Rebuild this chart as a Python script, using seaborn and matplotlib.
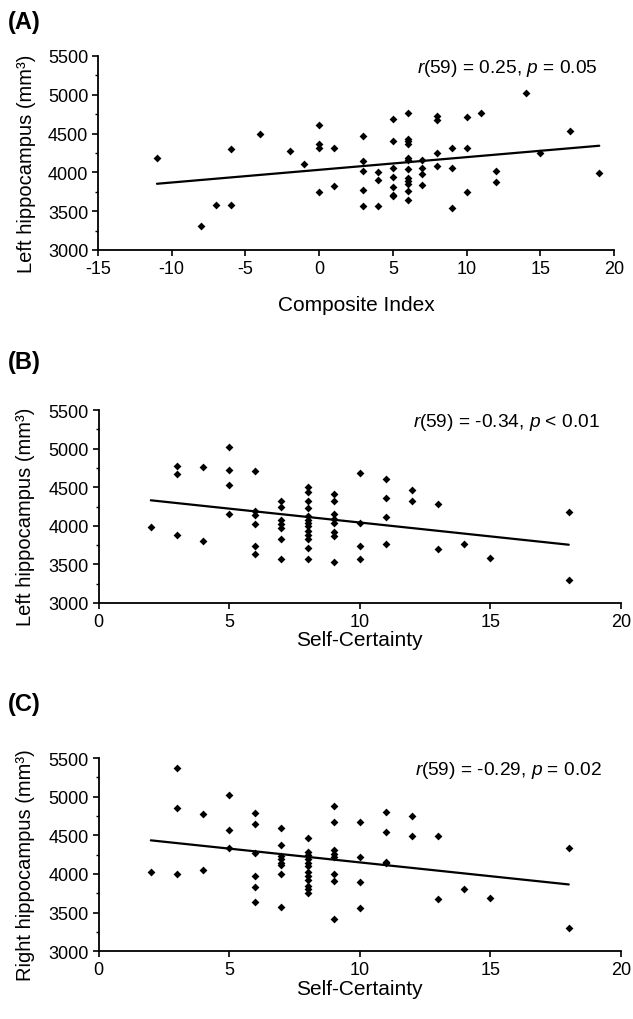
import matplotlib
matplotlib.use("Agg")
import matplotlib.pyplot as plt
import seaborn as sns
import numpy as np
import pandas as pd
from matplotlib.ticker import MultipleLocator

# ---------------- data ----------------
composite_x = [-11, -8, -7, -6, -6, -4, -2, -1,
               0, 0, 0, 0,
               1, 1,
               3, 3, 3, 3, 3,
               4, 4, 4,
               5, 5, 5, 5, 5, 5, 5,
               6, 6, 6, 6, 6, 6, 6, 6, 6, 6, 6, 6,
               7, 7, 7, 7,
               8, 8, 8, 8,
               9, 9, 9,
               10, 10, 10,
               11, 12, 12, 14, 15, 17, 19]
left_hc_a = [4190, 3305, 3576, 3584, 4306, 4491, 4272, 4113,
             4611, 4370, 4319, 3752,
             4311, 3825,
             4465, 4143, 4022, 3773, 3571,
             4009, 3898, 3563,
             4689, 4405, 4061, 3937, 3808, 3713, 3690,
             4766, 4431, 4400, 4370, 4182, 4155, 4044, 3930, 3889, 3851, 3757, 3645,
             4166, 4063, 3980, 3838,
             4731, 4669, 4248, 4079,
             4311, 4057, 3537,
             4710, 4311, 3744,
             4770, 4022, 3876, 5020, 4246, 4530, 3993]

certainty_b = [2,
               3, 3, 3,
               4, 4,
               5, 5, 5, 5,
               6, 6, 6, 6, 6, 6,
               7, 7, 7, 7, 7, 7, 7,
               8, 8, 8, 8, 8, 8, 8, 8, 8, 8, 8, 8, 8,
               9, 9, 9, 9, 9, 9, 9, 9,
               10, 10, 10, 10,
               11, 11, 11, 11,
               12, 12, 13, 13, 14, 15, 18, 18]
left_hc_b = [3988,
             4778, 4675, 3881,
             4765, 3803,
             5022, 4718, 4530, 4157,
             4705, 4192, 4135, 4023, 3734, 3633,
             4323, 4241, 4072, 4023, 3969, 3829, 3575,
             4498, 4441, 4315, 4237, 4123, 4079, 4036, 4001, 3934, 3881, 3829, 3708, 3565,
             4411, 4317, 4153, 4088, 4032, 3916, 3864, 3535,
             4680, 4036, 3742, 3575,
             4606, 4360, 4110, 3768,
             4463, 4325, 4278, 3695, 3760, 3583, 4178, 3294]

certainty_c = [2,
               3, 3, 3,
               4, 4,
               5, 5, 5,
               6, 6, 6, 6, 6, 6,
               7, 7, 7, 7, 7, 7, 7, 7,
               8, 8, 8, 8, 8, 8, 8, 8, 8, 8, 8, 8,
               9, 9, 9, 9, 9, 9, 9, 9,
               10, 10, 10, 10,
               11, 11, 11, 11,
               12, 12, 13, 13, 14, 15, 18, 18]
right_hc_c = [4025,
              5366, 4857, 3999,
              4771, 4047,
              5017, 4572, 4336,
              4795, 4652, 4269, 3978, 3829, 3634,
              4592, 4374, 4236, 4190, 4146, 4110, 3998, 3573,
              4471, 4284, 4240, 4190, 4136, 4099, 4020, 3975, 3926, 3848, 3800, 3748,
              4883, 4676, 4308, 4254, 4220, 4004, 3915, 3422,
              4676, 4219, 3892, 3564,
              4797, 4539, 4150, 4140,
              4745, 4495, 4495, 3672, 3806, 3685, 4340, 3297]

panel_labels = ["(A)", "(B)", "(C)"]
x_labels = ["Composite Index", "Self-Certainty", "Self-Certainty"]
y_labels = ["Left hippocampus (mm\u00b3)", "Left hippocampus (mm\u00b3)",
            "Right hippocampus (mm\u00b3)"]
stats_text = [r"$r$(59) = 0.25, $p$ = 0.05",
              r"$r$(59) = -0.34, $p$ < 0.01",
              r"$r$(59) = -0.29, $p$ = 0.02"]
x_limits = [(-15, 20), (0, 20), (0, 20)]
x_steps = [5, 5, 5]
y_limits = (3000, 5500)

# ---------------- style ----------------
sns.set_style("ticks")
plt.rcParams["font.family"] = ["Liberation Sans", "DejaVu Sans"]
plt.rcParams["mathtext.fontset"] = "custom"
plt.rcParams["mathtext.rm"] = "Liberation Sans"
plt.rcParams["mathtext.it"] = "Liberation Sans:italic"
plt.rcParams["axes.unicode_minus"] = False
plt.rcParams["axes.linewidth"] = 1.3
for key in ["text.color", "axes.labelcolor", "xtick.color", "ytick.color", "axes.edgecolor"]:
    plt.rcParams[key] = "black"

fig = plt.figure(figsize=(6.33, 10.2), dpi=100)
W, H = 633.0, 1020.0
# axes boxes in pixel coords: left, right, top, bottom
boxes = [(98, 614, 57, 251), (98.6, 621, 411, 604), (98.6, 621, 759, 952.3)]
label_y = [23, 362, 705]
text_pos = [(0.618, 0.943), (0.602, 0.939), (0.606, 0.938)]
xlabel_pads = [13, 0, 1]

datasets = [(composite_x, left_hc_a), (certainty_b, left_hc_b), (certainty_c, right_hc_c)]

for i, ((xs, ys), (l, r, t, b)) in enumerate(zip(datasets, boxes)):
    ax = fig.add_axes([l / W, 1 - b / H, (r - l) / W, (b - t) / H])
    df = pd.DataFrame({"x": xs, "y": ys})
    sns.regplot(data=df, x="x", y="y", ax=ax, ci=None, marker="D", color="black",
                scatter_kws={"s": 16, "linewidths": 0, "alpha": 1},
                line_kws={"lw": 1.6, "color": "black"})
    ax.set_xlim(*x_limits[i])
    ax.set_ylim(*y_limits)
    ax.xaxis.set_major_locator(MultipleLocator(x_steps[i]))
    ax.yaxis.set_major_locator(MultipleLocator(500))
    ax.yaxis.set_minor_locator(MultipleLocator(250))
    ax.tick_params(axis="both", which="major", direction="out", length=4, width=1.2,
                   labelsize=13, pad=3)
    ax.tick_params(axis="y", which="minor", direction="out", length=2.5, width=1.0)
    sns.despine(ax=ax)
    ax.set_xlabel(x_labels[i], fontsize=15, labelpad=xlabel_pads[i])
    ax.set_ylabel(y_labels[i], fontsize=14.5)
    ax.yaxis.set_label_coords(-0.121, 0.45)
    ax.text(text_pos[i][0], text_pos[i][1], stats_text[i], transform=ax.transAxes,
            ha="left", va="center", fontsize=13.8)
    fig.text(8 / W, 1 - label_y[i] / H, panel_labels[i], fontsize=17,
             fontweight="bold", ha="left", va="center")

fig.savefig("out.png", dpi=100)
